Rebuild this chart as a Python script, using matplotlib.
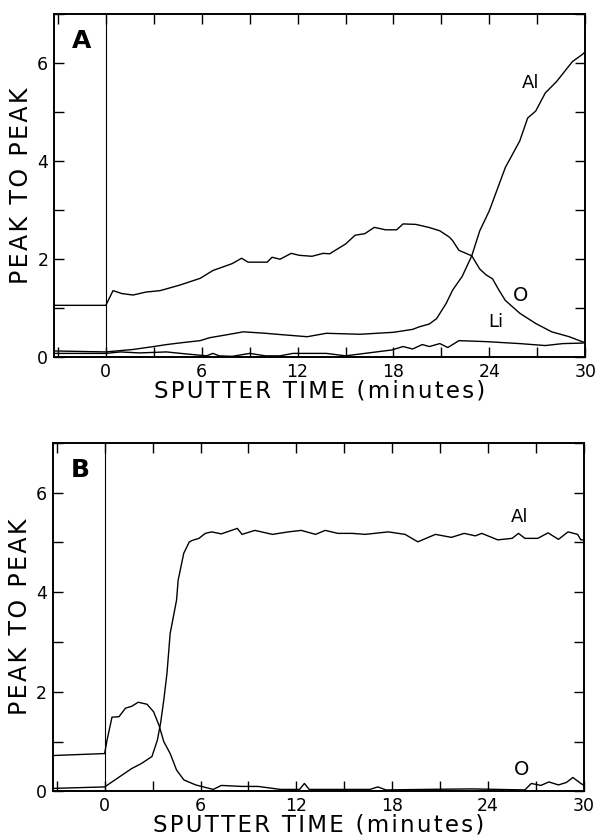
"""
Auger depth profiles (peak-to-peak vs sputter time), two panels A and B.
"""

import matplotlib

matplotlib.use("Agg")
import matplotlib.pyplot as plt
from matplotlib.ticker import MultipleLocator

plt.rcParams["font.family"] = ["DejaVu Sans"]

X_MIN, X_MAX = -3.25, 30.0
Y_MIN, Y_MAX = 0.0, 7.0

# ---- panel A -------------------------------------------------------------
a_o_x = [-3.25, 0.0, 0.45, 1.0, 1.7, 2.5, 3.4, 4.6, 5.9, 6.7, 7.9, 8.5, 8.9,
         10.1, 10.4, 10.9, 11.6, 12.1, 12.9, 13.6, 14.0, 15.0, 15.6, 16.2,
         16.8, 17.5, 18.2, 18.6, 19.4, 20.2, 20.9, 21.5, 21.7, 22.1, 22.9,
         23.4, 23.8, 24.2, 24.6, 25.0, 25.9, 26.9, 27.9, 29.0, 29.8, 30.0]
a_o_y = [1.06, 1.06, 1.36, 1.30, 1.27, 1.33, 1.36, 1.47, 1.61, 1.77, 1.91,
         2.02, 1.94, 1.94, 2.04, 2.00, 2.12, 2.08, 2.06, 2.12, 2.11, 2.31,
         2.49, 2.52, 2.65, 2.60, 2.60, 2.72, 2.71, 2.65, 2.58, 2.45, 2.38,
         2.18, 2.07, 1.80, 1.68, 1.60, 1.37, 1.16, 0.90, 0.69, 0.52, 0.42,
         0.32, 0.30]

a_al_x = [-3.25, 0.0, 1.7, 3.0, 3.8, 4.8, 5.9, 6.5, 7.75, 8.6, 10.0, 10.7,
          12.6, 13.8, 15.9, 18.0, 19.2, 19.6, 20.25, 20.7, 21.3, 21.7, 22.3,
          22.9, 23.4, 24.0, 25.0, 25.9, 26.4, 26.9, 27.5, 28.2, 29.2, 29.8,
          30.0]
a_al_y = [0.13, 0.11, 0.16, 0.22, 0.26, 0.30, 0.34, 0.40, 0.47, 0.52, 0.49,
          0.47, 0.42, 0.49, 0.47, 0.51, 0.57, 0.62, 0.68, 0.79, 1.10, 1.37,
          1.65, 2.07, 2.58, 2.99, 3.87, 4.41, 4.88, 5.02, 5.39, 5.62, 6.03,
          6.17, 6.23]

a_li_x = [-3.25, 0.0, 0.9, 2.1, 3.8, 5.0, 6.3, 6.7, 7.1, 7.9, 9.0, 10.0,
          10.9, 11.7, 13.8, 15.0, 16.2, 17.9, 18.6, 19.2, 19.8, 20.25, 20.9,
          21.4, 22.1, 23.8, 25.9, 27.5, 28.6, 29.8, 30.0]
a_li_y = [0.08, 0.08, 0.11, 0.09, 0.11, 0.07, 0.03, 0.08, 0.03, 0.02, 0.08,
          0.03, 0.03, 0.08, 0.08, 0.03, 0.08, 0.15, 0.22, 0.17, 0.26, 0.22,
          0.28, 0.20, 0.34, 0.32, 0.28, 0.24, 0.28, 0.29, 0.30]

# ---- panel B -------------------------------------------------------------
b_al_x = [-3.25, 0.0, 0.46, 1.1, 1.7, 2.3, 2.96, 3.3, 3.5, 3.7, 3.9, 4.1,
          4.5, 4.6, 4.95, 5.3, 5.5, 5.9, 6.3, 6.7, 7.3, 8.3, 8.6, 9.4, 10.5,
          11.5, 12.3, 13.2, 13.8, 14.6, 15.5, 16.3, 17.75, 18.8, 19.6, 20.7,
          21.7, 22.5, 23.2, 23.6, 24.6, 25.5, 25.9, 26.3, 27.1, 27.75, 28.4,
          29.0, 29.6, 29.8, 30.0]
b_al_y = [0.06, 0.09, 0.19, 0.33, 0.46, 0.56, 0.70, 1.03, 1.37, 1.83, 2.37,
          3.17, 3.84, 4.24, 4.78, 5.01, 5.04, 5.08, 5.18, 5.21, 5.17, 5.28,
          5.16, 5.24, 5.16, 5.21, 5.24, 5.16, 5.24, 5.18, 5.18, 5.16, 5.21,
          5.16, 5.01, 5.16, 5.10, 5.18, 5.13, 5.18, 5.05, 5.08, 5.18, 5.08,
          5.08, 5.19, 5.06, 5.21, 5.16, 5.05, 5.05]

b_o_x = [-3.25, 0.0, 0.15, 0.46, 0.9, 1.3, 1.7, 2.1, 2.65, 3.06, 3.4, 3.7,
         4.1, 4.5, 4.96, 5.7, 6.3, 6.8, 7.3, 8.6, 9.6, 11.0, 12.2, 12.5,
         12.8, 14.0, 16.6, 17.1, 17.6, 20.0, 23.0, 26.3, 26.7, 27.3, 27.8,
         28.4, 28.9, 29.3, 29.8, 30.0]
b_o_y = [0.72, 0.76, 1.03, 1.49, 1.50, 1.67, 1.71, 1.79, 1.75, 1.60, 1.33,
         1.00, 0.76, 0.43, 0.23, 0.13, 0.08, 0.04, 0.12, 0.10, 0.10, 0.04,
         0.04, 0.16, 0.04, 0.04, 0.04, 0.09, 0.03, 0.04, 0.05, 0.03, 0.16,
         0.12, 0.19, 0.13, 0.18, 0.28, 0.16, 0.12]

X_TICKS = [0, 6, 12, 18, 24, 30]
Y_TICKS = [0, 2, 4, 6]
X_LABEL = "SPUTTER TIME (minutes)"
Y_LABEL = "PEAK TO PEAK"


def spaced(text):
    # the lettering on the original plot is set wide
    return "\u200a".join(text)


def style_axes(ax, panel):
    ax.set_xlim(X_MIN, X_MAX)
    ax.set_ylim(Y_MIN, Y_MAX)
    ax.set_xticks(X_TICKS)
    ax.set_yticks(Y_TICKS)
    ax.xaxis.set_minor_locator(MultipleLocator(3))
    ax.yaxis.set_minor_locator(MultipleLocator(1))
    ax.tick_params(which="both", direction="in", top=True, right=True,
                   length=7, width=1.0, labelsize=12.5, pad=4)
    for s in ax.spines.values():
        s.set_linewidth(1.4)
    ax.axvline(0, color="black", lw=0.8)
    ax.set_xlabel(spaced(X_LABEL), fontsize=16.5, labelpad=-1)
    ax.set_ylabel(spaced(Y_LABEL), fontsize=17, labelpad=3)
    ax.text(-1.55, 6.45, panel, fontsize=18, fontweight="bold",
            ha="center", va="center")


fig = plt.figure(figsize=(5.99, 8.38), dpi=100)
ax_a = fig.add_axes([0.090, 0.5736, 0.887, 0.4097])
ax_b = fig.add_axes([0.088, 0.0556, 0.887, 0.4161])

line_kw = dict(color="black", lw=1.0)

ax_a.plot(a_o_x, a_o_y, **line_kw)
ax_a.plot(a_al_x, a_al_y, **line_kw)
ax_a.plot(a_li_x, a_li_y, **line_kw)
style_axes(ax_a, "A")
ax_a.text(26.6, 5.59, "Al", fontsize=13, ha="center", va="center")
ax_a.text(25.98, 1.26, "O", fontsize=14, ha="center", va="center")
ax_a.text(24.4, 0.72, "Li", fontsize=13, ha="center", va="center")

ax_b.plot(b_al_x, b_al_y, **line_kw)
ax_b.plot(b_o_x, b_o_y, **line_kw)
style_axes(ax_b, "B")
ax_b.text(26.0, 5.51, "Al", fontsize=13, ha="center", va="center")
ax_b.text(26.1, 0.43, "O", fontsize=14, ha="center", va="center")

fig.savefig("out.png", dpi=100)
